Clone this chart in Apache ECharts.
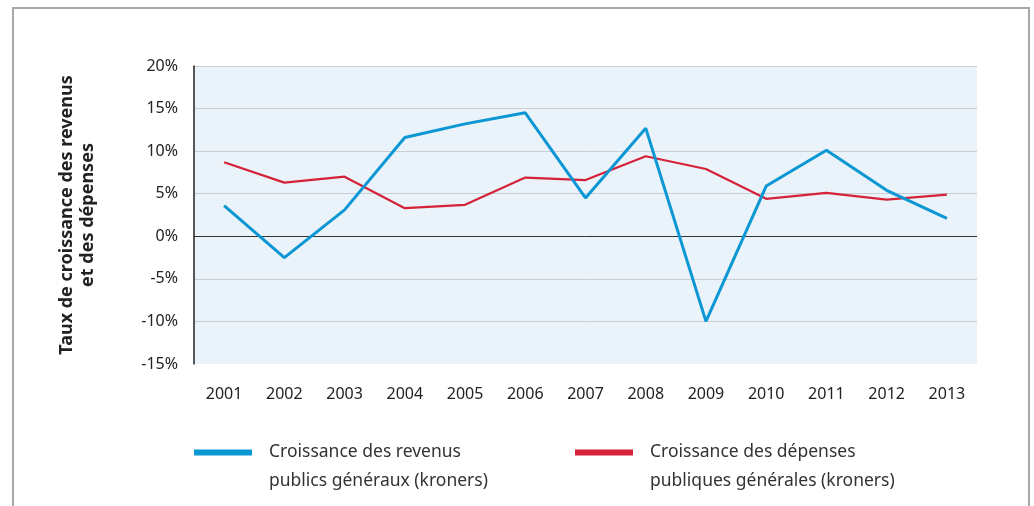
<!DOCTYPE html>
<html>
<head>
<meta charset="utf-8">
<script src="https://cdn.jsdelivr.net/npm/echarts@6/dist/echarts.min.js"></script>
<style>
  html, body { margin: 0; padding: 0; background: #fff; }
  #frame { position: absolute; left: 12px; top: 7px; width: 1014px; height: 520px; border: 2px solid #a8a8a8; }
  #chart { position: absolute; left: 0; top: 0; width: 1034px; height: 506px; }
</style>
</head>
<body>
<div id="frame"></div>
<div id="chart"></div>
<script>
const years = ['2001', '2002', '2003', '2004', '2005', '2006', '2007', '2008', '2009', '2010', '2011', '2012', '2013'];
const revenus = [3.6, -2.5, 3.1, 11.6, 13.2, 14.5, 4.5, 12.7, -10.0, 5.9, 10.1, 5.4, 2.1];
const depenses = [8.7, 6.3, 7.0, 3.3, 3.7, 6.9, 6.6, 9.4, 7.9, 4.4, 5.1, 4.3, 4.9];
const nameRevenus = 'Croissance des revenus\npublics généraux (kroners)';
const nameDepenses = 'Croissance des dépenses\npubliques générales (kroners)';

const font = '"Noto Sans", "Open Sans", sans-serif';
const legendText = {
    color: '#333',
    fontSize: 17.5,
    fontFamily: font,
    lineHeight: 29,
    padding: [0, 0, 0, 12]
};
// a blank first line puts the icon level with the first line of text
const legendLabel = name => ' \n' + name;

let myChart = echarts.init(document.getElementById('chart'));

let option = {
    animation: false,
    grid: {
        left: 194,
        right: 57,
        top: 66,
        bottom: 142,
        show: true,
        backgroundColor: '#eaf2fa',
        borderWidth: 0
    },
    legend: [{
        data: [nameRevenus],
        left: 194,
        top: 409,
        padding: 0,
        icon: 'rect',
        itemWidth: 58,
        itemHeight: 6,
        formatter: legendLabel,
        textStyle: legendText
    }, {
        data: [nameDepenses],
        left: 575,
        top: 409,
        padding: 0,
        icon: 'rect',
        itemWidth: 58,
        itemHeight: 6,
        formatter: legendLabel,
        textStyle: legendText
    }],
    xAxis: {
        type: 'category',
        data: years,
        boundaryGap: true,
        axisLine: { show: false },
        axisTick: { show: false },
        axisLabel: {
            margin: 22,
            color: '#222',
            fontSize: 16,
            fontFamily: font
        }
    },
    yAxis: {
        type: 'value',
        min: -15,
        max: 20,
        interval: 5,
        name: 'Taux de croissance des revenus\net des dépenses',
        nameLocation: 'middle',
        nameRotate: 90,
        nameGap: 96,
        nameTextStyle: {
            color: '#222',
            fontSize: 18,
            fontWeight: 'bold',
            fontFamily: font,
            lineHeight: 21
        },
        axisLine: {
            show: true,
            lineStyle: { color: '#222', width: 1.5 }
        },
        axisTick: { show: false },
        axisLabel: {
            margin: 16,
            color: '#222',
            fontSize: 16,
            fontFamily: font,
            formatter: '{value}%'
        },
        splitLine: {
            show: true,
            lineStyle: {
                color: ['rgba(0,0,0,0)', '#c9cdd4', '#c9cdd4', '#333', '#c9cdd4', '#c9cdd4', '#c9cdd4', '#c9cdd4'],
                width: 1
            }
        }
    },
    series: [{
        name: nameRevenus,
        type: 'line',
        data: revenus,
        showSymbol: false,
        lineStyle: { color: '#0b96d4', width: 3 },
        itemStyle: { color: '#0b96d4' },
        z: 3
    }, {
        name: nameDepenses,
        type: 'line',
        data: depenses,
        showSymbol: false,
        lineStyle: { color: '#d42339', width: 2.2 },
        itemStyle: { color: '#d42339' },
        z: 2
    }]
};

myChart.setOption(option);
</script>
</body>
</html>
